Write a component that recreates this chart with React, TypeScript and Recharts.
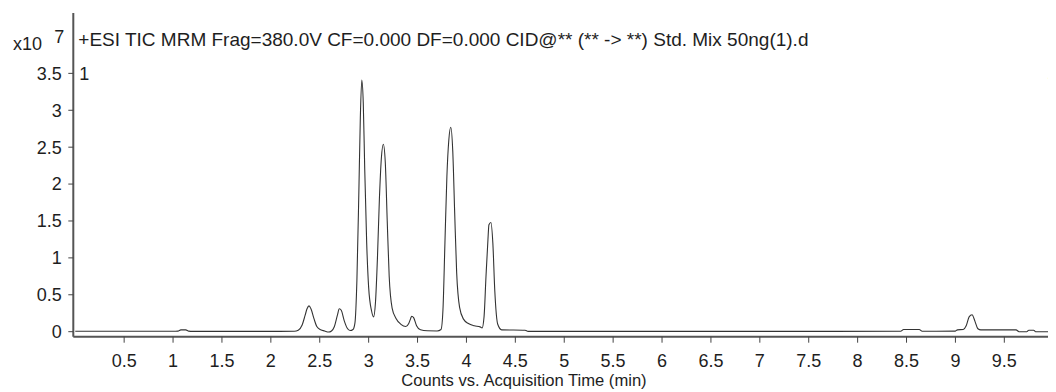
import React from 'react';
import { LineChart, Line, XAxis, YAxis } from 'recharts';

// retention time (min)
const times = [
  0, 0.5, 1.0, 1.05, 1.08, 1.13, 1.16, 1.2, 1.6, 2.0, 2.24,
  2.28, 2.32, 2.35, 2.37, 2.39, 2.41, 2.44, 2.47, 2.51, 2.55, 2.59,
  2.62, 2.65, 2.68, 2.70, 2.72, 2.75, 2.78, 2.81, 2.84, 2.86,
  2.88, 2.90, 2.915, 2.93, 2.945, 2.96, 2.98, 3.00, 3.03, 3.05,
  3.07, 3.09, 3.11, 3.13, 3.15, 3.17, 3.19, 3.21, 3.24, 3.28, 3.33, 3.38,
  3.41, 3.43, 3.44, 3.46, 3.49, 3.53, 3.60, 3.70, 3.74,
  3.76, 3.78, 3.80, 3.82, 3.84, 3.86, 3.88, 3.90, 3.93, 3.97, 4.02, 4.08, 4.14, 4.16,
  4.18, 4.20, 4.22, 4.23, 4.25, 4.27, 4.29, 4.32, 4.36, 4.60, 4.63,
  5.5, 7.0, 8.44, 8.47, 8.63, 8.66, 9.0, 9.02, 9.08, 9.11, 9.14, 9.17,
  9.20, 9.23, 9.26, 9.62, 9.65, 9.73, 9.75, 9.80, 9.82, 10.1,
];

// TIC counts, x10^7
const counts = [
  0.005, 0.005, 0.005, 0.008, 0.025, 0.025, 0.008, 0.004, 0.004, 0.004, 0.006,
  0.02, 0.09, 0.22, 0.31, 0.35, 0.31, 0.18, 0.07, 0.025, 0.01, -0.005,
  0.01, 0.07, 0.22, 0.31, 0.29, 0.15, 0.05, 0.015, 0.03, 0.12,
  0.7, 1.9, 2.9, 3.41, 3.1, 2.2, 1.2, 0.6, 0.28, 0.2,
  0.4, 1.0, 1.8, 2.35, 2.54, 2.3, 1.5, 0.75, 0.32, 0.18, 0.1, 0.07,
  0.11, 0.18, 0.21, 0.19, 0.08, 0.025, 0.012, 0.01, 0.03,
  0.3, 1.2, 2.1, 2.6, 2.77, 2.45, 1.6, 0.8, 0.33, 0.17, 0.11, 0.08, 0.065, 0.05,
  0.2, 0.75, 1.25, 1.45, 1.48, 1.2, 0.55, 0.1, 0.025, 0.02, 0.004,
  0.004, 0.004, 0.006, 0.03, 0.03, 0.006, 0.008, 0.025, 0.03, 0.08, 0.2, 0.23,
  0.14, 0.04, 0.025, 0.025, 0.0, 0.0, 0.02, 0.02, 0.0, 0.0,
];

const xTicks = [0.5, 1, 1.5, 2, 2.5, 3, 3.5, 4, 4.5, 5, 5.5, 6, 6.5, 7, 7.5, 8, 8.5, 9, 9.5];
const yTicks = [0, 0.5, 1, 1.5, 2, 2.5, 3, 3.5];

const title = '+ESI TIC MRM Frag=380.0V CF=0.000 DF=0.000 CID@** (** -> **) Std. Mix 50ng(1).d';
const xTitle = 'Counts vs. Acquisition Time (min)';

const data = times.map((t, i) => ({ t, v: counts[i] }));

const font = '"Liberation Sans", Arial, sans-serif';
const ink = '#1e1e1e';
const tickStyle = { fontSize: 18, fill: ink, fontFamily: font };

const txt = (left: number, top: number, size: number): React.CSSProperties => ({
  position: 'absolute',
  left,
  top,
  fontSize: size,
  lineHeight: `${size}px`,
  fontFamily: font,
  color: ink,
  whiteSpace: 'nowrap',
});

export default function App() {
  return (
    <div style={{ position: 'relative', width: 1048, height: 384, overflow: 'hidden', background: '#fff' }}>
      <LineChart width={1056} height={384} data={data} margin={{ top: 5, right: 1, bottom: 0, left: 0 }}>
        <XAxis
          xAxisId="top"
          orientation="top"
          dataKey="t"
          type="number"
          domain={[-0.02, 10.1]}
          height={0}
          tick={false}
          tickLine={false}
          axisLine={{ stroke: '#666', strokeWidth: 1 }}
        />
        <XAxis
          dataKey="t"
          type="number"
          domain={[-0.02, 10.1]}
          ticks={xTicks}
          allowDataOverflow
          height={55.3}
          tickSize={6}
          tickMargin={12}
          tick={tickStyle}
          tickLine={{ stroke: '#444' }}
          axisLine={{ stroke: '#555', strokeWidth: 2 }}
        />
        <YAxis
          type="number"
          domain={[-0.068, 4.318]}
          ticks={yTicks}
          allowDataOverflow
          width={65.3}
          tickSize={5}
          tickMargin={6.5}
          tick={tickStyle}
          tickLine={{ stroke: '#444' }}
          axisLine={{ stroke: '#555', strokeWidth: 2 }}
        />
        <Line
          xAxisId={0}
          dataKey="v"
          type="monotone"
          stroke="#333"
          strokeWidth={1.1}
          dot={false}
          isAnimationActive={false}
        />
      </LineChart>
      <span style={txt(70.3, 21.7, 19)}>{title}</span>
      <span style={txt(5, 27, 18)}>x10</span>
      <span style={txt(46.3, 20, 18)}>7</span>
      <span style={txt(71.3, 56.5, 18)}>1</span>
      <span style={txt(1039, 56, 18)}>1</span>
      <div style={{ ...txt(266, 364.5, 16.6), width: 500, textAlign: 'center' }}>{xTitle}</div>
    </div>
  );
}
